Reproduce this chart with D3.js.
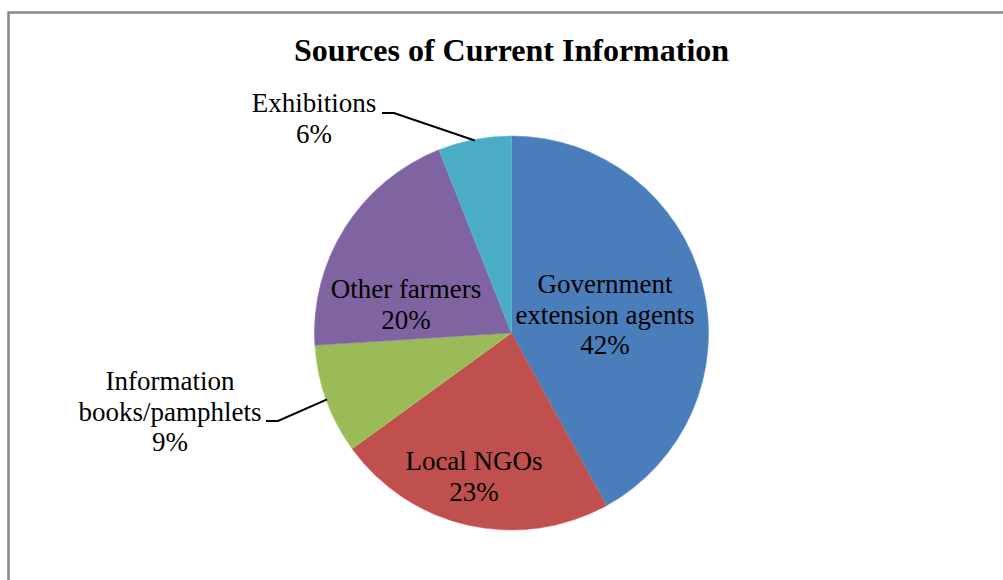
<!DOCTYPE html>
<html>
<head>
<meta charset="utf-8">
<script src="https://cdn.jsdelivr.net/npm/d3@7"></script>
<style>
  html, body { margin: 0; padding: 0; background: #fff; }
  svg { display: block; }
  text { font-family: "Liberation Serif", "Times New Roman", serif; fill: #000; }
</style>
</head>
<body>
<svg id="chart" width="1003" height="580"></svg>
<script>
// Sources of current information (share of respondents, %)
const categories = [
  "Government extension agents",
  "Local NGOs",
  "Information books/pamphlets",
  "Other farmers",
  "Exhibitions"
];
const values = [42, 23, 9, 20, 6];
const colors = ["#4A7EBB", "#C0504D", "#9BBB59", "#8064A2", "#4BACC6"];

// Label line breaks per category
const labelLines = [
  ["Government", "extension agents"],
  ["Local NGOs"],
  ["Information", "books/pamphlets"],
  ["Other farmers"],
  ["Exhibitions"]
];

// Label placement: inside labels sit over their slice,
// outside labels are anchored at a fixed point with a leader line.
const labelLayout = [
  { inside: true, x: 605, y: 293 },
  { inside: true, x: 474, y: 470 },
  { inside: false, x: 170, y: 390, lx: 266, ly: 421, elbow: 12 },
  { inside: true, x: 406, y: 298 },
  { inside: false, x: 314, y: 112, lx: 382, ly: 113, elbow: 12 }
];

const cx = 511.5, cy = 333, R = 197;
const lineH = 30.5;

const svg = d3.select("#chart");

// Chart frame
svg.append("rect")
  .attr("x", 8.5).attr("y", 12.5)
  .attr("width", 1100).attr("height", 700)
  .attr("fill", "none")
  .attr("stroke", "#888")
  .attr("stroke-width", 2.5);

// Title
svg.append("text")
  .attr("x", cx).attr("y", 61)
  .attr("text-anchor", "middle")
  .style("font-size", "32px")
  .style("font-weight", "bold")
  .text("Sources of Current Information");

const data = categories.map((c, i) => ({ name: c, value: values[i], i }));

const pie = d3.pie().value(d => d.value).sort(null);
const arcs = pie(data);
const arc = d3.arc().innerRadius(0).outerRadius(R);

const g = svg.append("g").attr("transform", `translate(${cx},${cy})`);

g.selectAll("path.slice")
  .data(arcs)
  .join("path")
  .attr("class", "slice")
  .attr("d", arc)
  .attr("fill", d => colors[d.data.i])
  .attr("stroke", d => d3.color(colors[d.data.i]).brighter(0.3))
  .attr("stroke-width", 0.6);

// Leader lines for outside labels, ending on the slice's outer edge
const edgeArc = d3.arc().innerRadius(R - 1).outerRadius(R - 1);
arcs.forEach(a => {
  const L = labelLayout[a.data.i];
  if (L.inside) return;
  const [ex, ey] = edgeArc.centroid(a);
  const pts = [
    [L.lx, L.ly],
    [L.lx + L.elbow, L.ly],
    [cx + ex, cy + ey]
  ];
  svg.append("path")
    .attr("d", d3.line()(pts))
    .attr("fill", "none")
    .attr("stroke", "#000")
    .attr("stroke-width", 2);
});

// Category labels with percentages
arcs.forEach(a => {
  const L = labelLayout[a.data.i];
  const lines = labelLines[a.data.i].concat([a.data.value + "%"]);
  const t = svg.append("text")
    .attr("text-anchor", "middle")
    .style("font-size", "27px");
  lines.forEach((s, k) => {
    t.append("tspan")
      .attr("x", L.x)
      .attr("y", L.y + k * lineH)
      .text(s);
  });
});
</script>
</body>
</html>
